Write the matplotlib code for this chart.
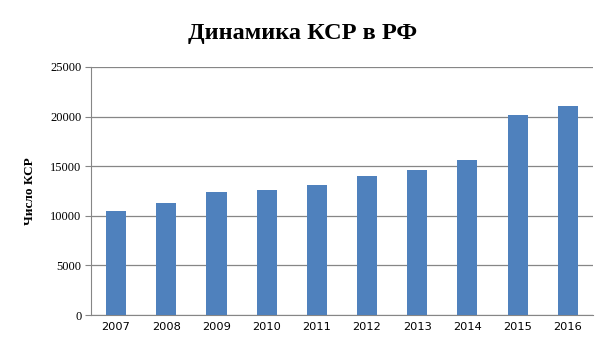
import numpy as np
import matplotlib.pyplot as plt

years = ['2007', '2008', '2009', '2010', '2011', '2012', '2013', '2014', '2015', '2016']
ksr = [10500, 11300, 12400, 12600, 13100, 14000, 14600, 15600, 20200, 21100]
yticks = [0, 5000, 10000, 15000, 20000, 25000]

fig = plt.figure(figsize=(6.05, 3.4), dpi=100)
ax = fig.add_axes([0.1504, 0.0735, 0.8296, 0.7295])

x = np.arange(len(years))
ax.bar(x, ksr, width=0.4, color='#4f81bd', zorder=3)

ax.set_xlim(-0.5, len(years) - 0.5)
ax.set_ylim(0, 25000)
ax.set_xticks(x)
ax.set_xticklabels(years, fontsize=8.2, family='DejaVu Sans')
ax.set_yticks(yticks)
ax.set_yticklabels([str(v) for v in yticks], fontsize=9, family='Liberation Serif')
ax.tick_params(axis='x', length=0, pad=5)
ax.tick_params(axis='y', length=4, color='#868686', pad=3)

ax.grid(axis='y', color='#868686', linewidth=0.9, zorder=0)
for s in ['top', 'right']:
    ax.spines[s].set_visible(False)
ax.spines['left'].set_color('#868686')
ax.spines['bottom'].set_color('#868686')

ax.set_ylabel('Число КСР', fontsize=9.5, family='Liberation Serif', fontweight='bold', labelpad=10)
fig.text(0.5, 0.9, 'Динамика КСР в РФ', ha='center', va='center',
         fontsize=17.5, family='Liberation Serif', fontweight='bold')

fig.savefig('out.png', dpi=100)
